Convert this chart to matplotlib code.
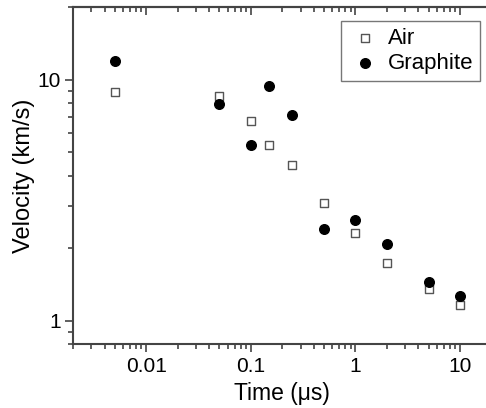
import matplotlib
matplotlib.use("Agg")
import matplotlib.pyplot as plt
from matplotlib.ticker import LogLocator, FixedLocator, FixedFormatter, NullFormatter

plt.rcParams['font.family'] = ['Liberation Sans', 'DejaVu Sans']

# time in microseconds
time_air = [0.005, 0.05, 0.1, 0.15, 0.25, 0.5, 1, 2, 5, 10]
vel_air = [8.92, 8.52, 6.71, 5.35, 4.41, 3.07, 2.31, 1.74, 1.35, 1.16]

time_graphite = [0.005, 0.05, 0.1, 0.15, 0.25, 0.5, 1, 2, 5, 10]
vel_graphite = [11.9, 7.92, 5.33, 9.38, 7.11, 2.40, 2.61, 2.08, 1.45, 1.26]

x_ticks = [0.01, 0.1, 1, 10]
x_tick_labels = ['0.01', '0.1', '1', '10']
y_ticks = [1, 10]
y_tick_labels = ['1', '10']

W, H = 486, 408
fig = plt.figure(figsize=(W / 100, H / 100), dpi=100)
# axes extends slightly past the right edge (reference is cropped there)
ax = fig.add_axes([73 / W, (H - 344) / H, (491.6 - 73) / W, (344 - 7) / H])

ax.scatter(time_air, vel_air, marker='s', s=30, facecolors='white',
           edgecolors='#555555', linewidths=1.0, label='Air', zorder=3)
ax.scatter(time_graphite, vel_graphite, marker='o', s=48, color='black',
           label='Graphite', zorder=3)

ax.set_xscale('log')
ax.set_yscale('log')
ax.set_xlim(0.002, 20)
ax.set_ylim(0.8, 20)

ax.xaxis.set_major_locator(FixedLocator(x_ticks))
ax.xaxis.set_major_formatter(FixedFormatter(x_tick_labels))
ax.yaxis.set_major_locator(FixedLocator(y_ticks))
ax.yaxis.set_major_formatter(FixedFormatter(y_tick_labels))
ax.xaxis.set_minor_locator(LogLocator(base=10, subs=range(2, 10), numticks=20))
ax.yaxis.set_minor_locator(LogLocator(base=10, subs=range(2, 10), numticks=20))
ax.xaxis.set_minor_formatter(NullFormatter())
ax.yaxis.set_minor_formatter(NullFormatter())

for s in ax.spines.values():
    s.set_color('#444444')
    s.set_linewidth(1.5)

ax.tick_params(axis='both', which='major', direction='out', length=6, width=1.2,
               color='#444444', labelsize=15, pad=3)
ax.tick_params(axis='both', which='minor', direction='out', length=3.5, width=1.2,
               color='#444444')
# mirrored ticks on top, pointing inward
ax2 = ax.secondary_xaxis('top')
ax2.xaxis.set_major_locator(FixedLocator(x_ticks))
ax2.xaxis.set_minor_locator(LogLocator(base=10, subs=range(2, 10), numticks=20))
ax2.xaxis.set_major_formatter(NullFormatter())
ax2.xaxis.set_minor_formatter(NullFormatter())
ax2.tick_params(which='major', direction='in', length=6, width=1.2, color='#444444')
ax2.tick_params(which='minor', direction='in', length=3.5, width=1.2, color='#444444')
ax2.spines['top'].set_color('#444444')
ax2.spines['top'].set_linewidth(1.5)

ax.set_xlabel('Time (μs)', fontsize=16.5, labelpad=5)
ax.set_ylabel('Velocity (km/s)', fontsize=17, labelpad=1.5)

leg = ax.legend(loc='upper right', bbox_to_anchor=(480 / W, (H - 21) / H),
                bbox_transform=fig.transFigure, fontsize=16, frameon=True,
                fancybox=False, edgecolor='#555555', handletextpad=0.3,
                borderpad=0.3, labelspacing=0.2, handlelength=1.5,
                borderaxespad=0)
leg.get_frame().set_linewidth(1.0)

fig.savefig('out.png', dpi=100)
